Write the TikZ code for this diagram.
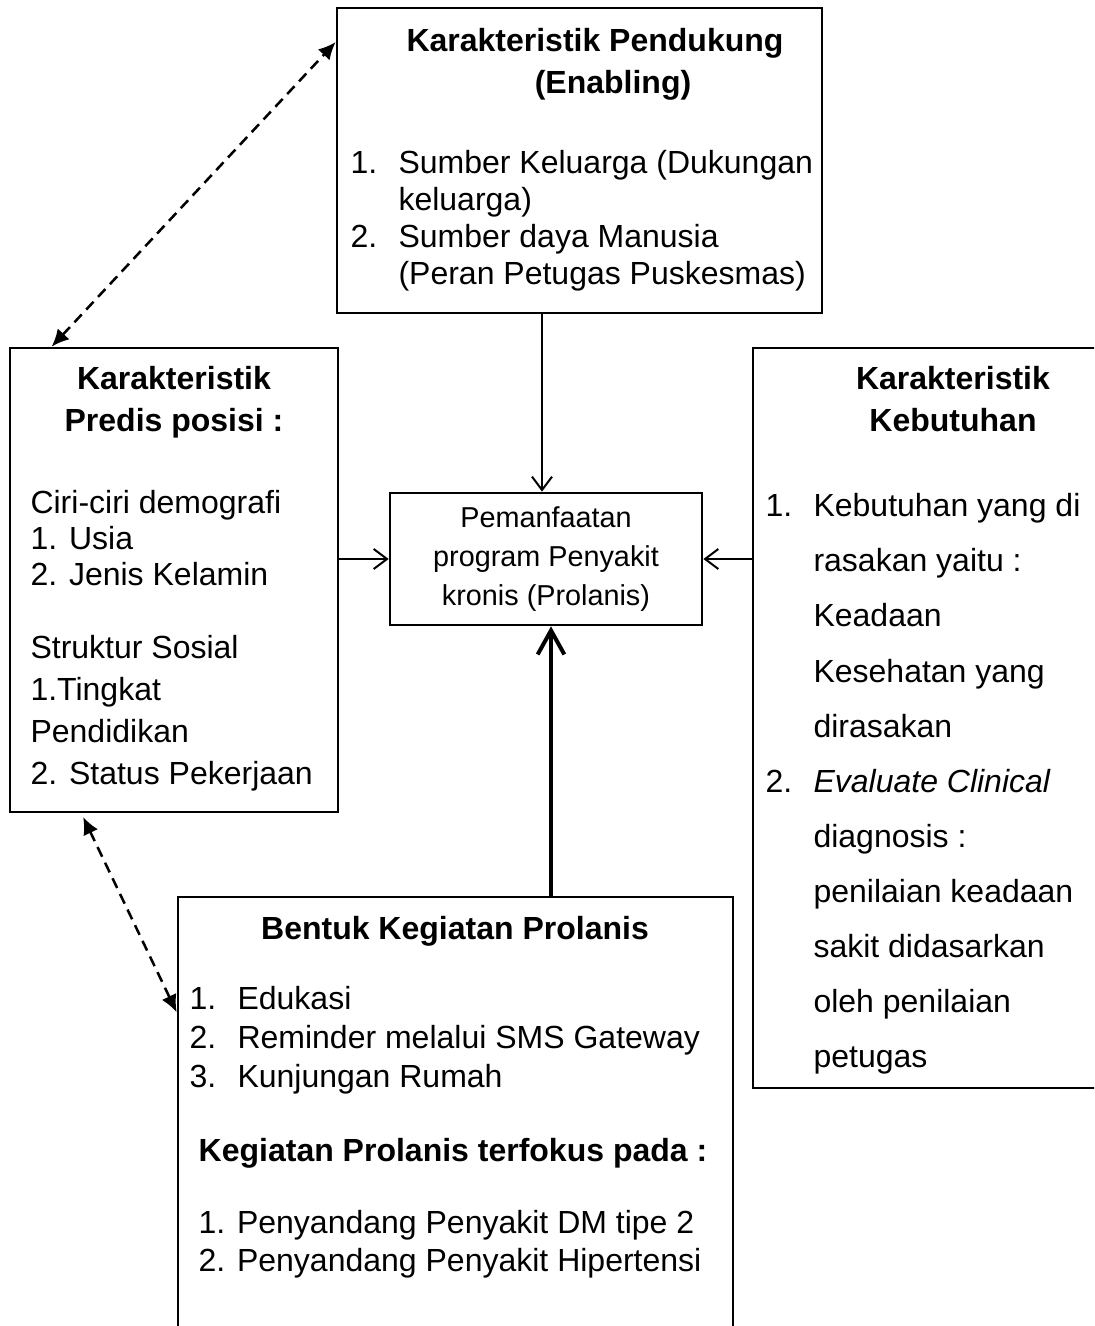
\documentclass[tikz,border=0pt]{standalone}
\usepackage{fontspec}
\setmainfont{Liberation Sans}
\usetikzlibrary{arrows.meta,fit,calc}

\newcommand{\nitem}[2]{\makebox[18pt][l]{#1}#2}

\begin{document}
\begin{tikzpicture}[x=0.375pt, y=-0.375pt,
	box/.style={draw, line width=1pt, inner sep=0pt},
	txt/.style={inner sep=0pt, align=left, font=\fontsize{12}{13.9}\selectfont},
	head/.style={inner sep=0pt, align=center, font=\fontsize{12}{15.5}\selectfont\bfseries},
	arr/.style={line width=0.75pt, -{Straight Barb[length=5pt,width=7.5pt]}},
	bigarr/.style={line width=1.5pt, -{Straight Barb[length=9pt,width=10pt]}},
	dasharr/.style={line width=0.95pt, dash pattern=on 4pt off 2.5pt, {Latex[length=6.5pt,width=6pt]}-{Latex[length=6.5pt,width=6pt]}}]
	\useasboundingbox (0,0) rectangle (1094,1326);
	\clip (0,0) rectangle (1094,1326);
	% kotak
	\node[box, fit={(337,8) (822,313)}] (pendukung) {};
	\node[box, fit={(10,348) (338,812)}] (predis) {};
	\node[box, fit={(753,348) (1160,1088)}] (kebutuhan) {};
	\node[box, fit={(178,897) (733,1380)}] (bentuk) {};
	\node[box, minimum width=117pt, minimum height=49.5pt, align=center,
		font=\fontsize{10.8}{14.6}\selectfont] (manfaat) at (546,559)
		{Pemanfaatan\\program Penyakit\\kronis (Prolanis)};
	% pendukung
	\node[head, anchor=north] (judul1) at (595,28) {Karakteristik Pendukung\\\hspace*{13.5pt}(Enabling)};
	\node[txt, anchor=north west] (sumber) at (350,150)
		{\nitem{1.}{Sumber Keluarga (Dukungan}\\\nitem{}{keluarga)}\\
		\nitem{2.}{Sumber daya Manusia}\\\nitem{}{(Peran Petugas Puskesmas)}};
	% predisposisi
	\node[head, anchor=north] (judul2) at (174,366) {Karakteristik\\Predis posisi :};
	\node[txt, anchor=north west, font=\fontsize{12}{13.5}\selectfont] (demografi) at (30,490)
		{Ciri-ciri demografi\\1. Usia\\2. Jenis Kelamin};
	\node[txt, anchor=north west, font=\fontsize{12}{15.75}\selectfont] (sosial) at (30,635)
		{Struktur Sosial\\1.Tingkat\\Pendidikan\\2. Status Pekerjaan};
	% kebutuhan
	\node[head, anchor=north] (judul3) at (953,366) {Karakteristik\\Kebutuhan};
	\node[txt, anchor=north west, font=\fontsize{12}{20.66}\selectfont] (rasa) at (765,493)
		{\nitem{1.}{Kebutuhan yang di}\\\nitem{}{rasakan yaitu :}\\\nitem{}{Keadaan}\\
		\nitem{}{Kesehatan yang}\\\nitem{}{dirasakan}\\\nitem{2.}{\textit{Evaluate Clinical}}\\
		\nitem{}{diagnosis :}\\\nitem{}{penilaian keadaan}\\\nitem{}{sakit didasarkan}\\
		\nitem{}{oleh penilaian}\\\nitem{}{petugas}};
	% kegiatan
	\node[head, anchor=north] (judul4) at (455,916) {Bentuk Kegiatan Prolanis};
	\node[txt, anchor=north west, font=\fontsize{12}{14.6}\selectfont] (kegiatan) at (189,986)
		{\nitem{1.}{Edukasi}\\\nitem{2.}{Reminder melalui SMS Gateway}\\\nitem{3.}{Kunjungan Rumah}};
	\node[head, anchor=north] (judul5) at (453,1138) {Kegiatan Prolanis terfokus pada :};
	\node[txt, anchor=north west, font=\fontsize{12}{14.25}\selectfont] (fokus) at (198,1210)
		{1. Penyandang Penyakit DM tipe 2\\2. Penyandang Penyakit Hipertensi};
	% panah
	\draw[arr] ($(manfaat.north |- pendukung.south)+(-4,0)$) -- ($(manfaat.north)+(-4,0)$);
	\draw[arr] (predis.east |- manfaat.west) -- (manfaat.west);
	\draw[arr] (kebutuhan.west |- manfaat.east) -- (manfaat.east);
	\draw[bigarr] ($(bentuk.north -| manfaat.south)+(5,0)$) -- ($(manfaat.south)+(5,0)$);
	\draw[dasharr] ($(predis.north west)!0.13!(predis.north east)$)
		-- ($(pendukung.north west)!0.115!(pendukung.south west)$);
	\draw[dasharr, shorten <=1.5pt] ($(predis.south west)!0.22!(predis.south east)$)
		-- ($(bentuk.north west)!0.24!(bentuk.south west)$);
\end{tikzpicture}
\end{document}
